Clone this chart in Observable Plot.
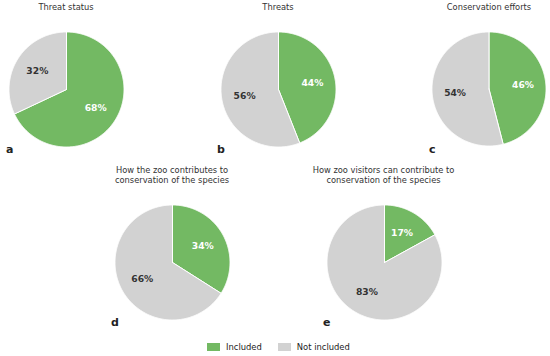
<!DOCTYPE html>
<html><head><meta charset="utf-8">
<script src="https://cdn.jsdelivr.net/npm/d3@7"></script>
<script src="https://cdn.jsdelivr.net/npm/@observablehq/plot@0.6"></script>
<style>
body{margin:0;background:#fff;font-family:"DejaVu Sans",sans-serif;}
#chart{position:relative;width:550px;height:356px;overflow:hidden;background:#fff;}
.title{position:absolute;font-size:8.3px;color:#333;text-align:center;line-height:10px;width:240px;white-space:pre;}
.letter{position:absolute;font-weight:bold;font-size:11px;color:#222;line-height:11px;}
.panel{position:absolute;}
.lg-swatches-wrap{min-height:0!important;margin:0!important;}
.lg-swatches{margin:0!important;}
.lg-swatch{margin-right:16px!important;color:#222;}
.lg-swatch > svg{margin-right:6px!important;}
</style></head><body><div id="chart"></div><script>
// ---- data ----
const categories = ["Included", "Not included"];
const panelLetters = ["a", "b", "c", "d", "e"];
const titles = [
  "Threat status",
  "Threats",
  "Conservation efforts",
  "How the zoo contributes to\nconservation of the species",
  "How zoo visitors can contribute to\nconservation of the species"
];
const includedPct = [68, 44, 46, 34, 17];
const notIncludedPct = [32, 56, 54, 66, 83];

// ---- style / layout ----
const colors = ["#73b963", "#d2d2d2"];
const labelColors = {"Included": "#ffffff", "Not included": "#333333"};
const layout = [
  {cx: 66, cy: 88.5, lx: 6, ly: 144},
  {cx: 278, cy: 88.5, lx: 217, ly: 144},
  {cx: 489, cy: 88.5, lx: 429, ly: 144},
  {cx: 172, cy: 261.7, lx: 111, ly: 317},
  {cx: 383.5, cy: 261.5, lx: 323, ly: 317}
];
const titleY = [[7], [7], [7], [170, 180], [170, 180]];
const radius = 57.5, S = 124, R = (S / 2) / radius;

const chart = document.getElementById("chart");

panelLetters.forEach((letter, i) => {
  const rows = categories.map((c, k) => ({cat: c, value: k === 0 ? includedPct[i] : notIncludedPct[i]}));
  const arcs = d3.pie().sort(null).value(d => d.value)(rows);
  const pts = [];
  arcs.forEach(a => {
    const n = Math.max(2, Math.ceil((a.endAngle - a.startAngle) / 0.01));
    pts.push({cat: a.data.cat, x: 0, y: 0});
    for (let j = 0; j <= n; j++) {
      const t = a.startAngle + (a.endAngle - a.startAngle) * j / n;
      pts.push({cat: a.data.cat, x: Math.sin(t), y: Math.cos(t)});
    }
    pts.push({cat: a.data.cat, x: 0, y: 0});
  });
  const labels = arcs.map(a => {
    const m = (a.startAngle + a.endAngle) / 2;
    return {cat: a.data.cat, x: 0.6 * Math.sin(m), y: 0.6 * Math.cos(m), text: a.data.value + "%"};
  });
  const plot = Plot.plot({
    width: S, height: S, margin: 0,
    x: {domain: [-R, R], axis: null},
    y: {domain: [-R, R], axis: null},
    color: {domain: categories, range: colors},
    style: {background: "transparent", overflow: "visible", fontFamily: "DejaVu Sans"},
    marks: [
      Plot.line(pts, {x: "x", y: "y", z: "cat", fill: "cat", stroke: "white", strokeWidth: 1, strokeLinejoin: "round"}),
      ...categories.map(c => Plot.text(labels.filter(d => d.cat === c), {
        x: "x", y: "y", text: "text", fill: labelColors[c], fontWeight: "bold", fontSize: 9.2
      }))
    ]
  });
  const L = layout[i];
  const wrap = document.createElement("div");
  wrap.className = "panel";
  wrap.style.left = (L.cx - S / 2) + "px";
  wrap.style.top = (L.cy - S / 2) + "px";
  wrap.appendChild(plot);
  chart.appendChild(wrap);

  const t = document.createElement("div");
  t.className = "title";
  t.textContent = titles[i];
  t.style.left = (L.cx - 120) + "px";
  t.style.top = (titleY[i][0] - 5) + "px";
  chart.appendChild(t);

  const l = document.createElement("div");
  l.className = "letter";
  l.textContent = letter;
  l.style.left = L.lx + "px";
  l.style.top = L.ly + "px";
  chart.appendChild(l);
});

const legend = Plot.legend({
  color: {domain: categories, range: colors},
  legend: "swatches",
  swatchWidth: 13, swatchHeight: 8,
  className: "lg",
  style: {fontFamily: "DejaVu Sans", fontSize: "8.4px"}
});
const lw = document.createElement("div");
lw.style.position = "absolute";
lw.style.left = "207px";
lw.style.top = "342px";
lw.appendChild(legend);
chart.appendChild(lw);
</script></body></html>
